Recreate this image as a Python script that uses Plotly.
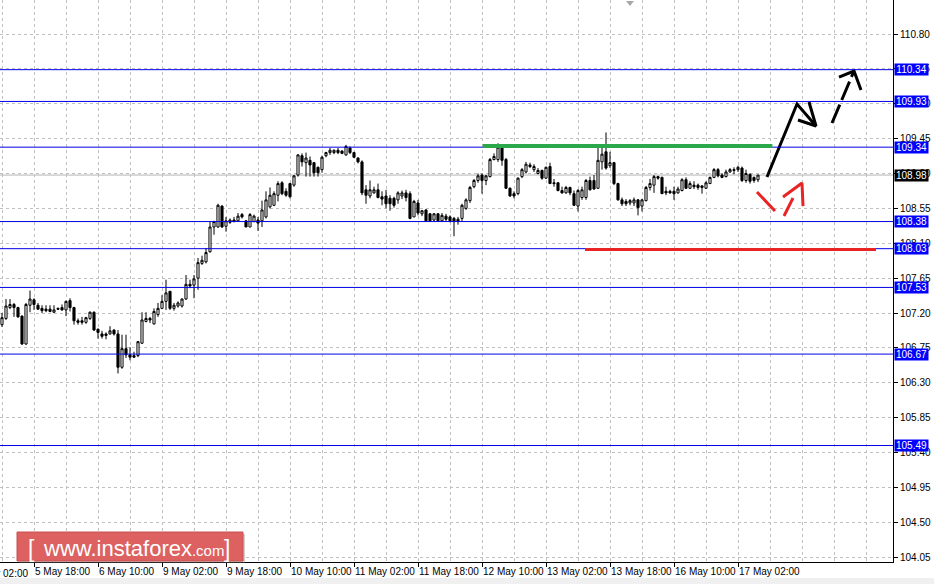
import plotly.graph_objects as go

# ---------------- data (H1 candles) ----------------
opens = [107.05, 107.13, 107.27, 107.31, 107.27, 107.16, 106.80, 107.30, 107.37, 107.30,
         107.26, 107.25, 107.25, 107.21, 107.26, 107.27, 107.24, 107.36, 107.27, 107.10,
         107.10, 107.08, 107.13, 107.21, 106.99, 106.93, 106.93, 106.93, 106.98, 106.93,
         106.50, 106.74, 106.66, 106.65, 106.65, 106.81, 107.09, 107.13, 107.06, 107.18,
         107.26, 107.35, 107.48, 107.26, 107.29, 107.29, 107.38, 107.57, 107.56, 107.65,
         107.84, 107.86, 107.99, 108.31, 108.31, 108.58, 108.32, 108.37, 108.40, 108.39,
         108.47, 108.39, 108.31, 108.38, 108.40, 108.39, 108.44, 108.57, 108.59, 108.72,
         108.88, 108.77, 108.87, 108.85, 108.98, 109.23, 109.14, 109.17, 109.14, 109.08,
         109.05, 109.23, 109.27, 109.27, 109.30, 109.29, 109.24, 109.33, 109.27, 109.20,
         109.15, 108.79, 108.71, 108.75, 108.79, 108.70, 108.71, 108.68, 108.68, 108.66,
         108.71, 108.75, 108.74, 108.44, 108.62, 108.48, 108.53, 108.48, 108.40, 108.48,
         108.39, 108.45, 108.44, 108.42, 108.41, 108.42, 108.55, 108.65, 108.83, 108.91,
         108.98, 108.91, 108.96, 109.18, 109.18, 109.33, 109.18, 108.81, 108.74, 108.74,
         108.96, 109.02, 109.11, 109.05, 109.00, 109.04, 108.94, 109.09, 108.88, 108.88,
         108.78, 108.75, 108.82, 108.74, 108.58, 108.69, 108.69, 108.91, 108.91, 108.81,
         109.15, 109.28, 109.10, 109.14, 108.87, 108.66, 108.64, 108.62, 108.62, 108.66,
         108.58, 108.65, 108.82, 108.85, 108.96, 108.95, 108.77, 108.77, 108.77, 108.75,
         108.78, 108.92, 108.81, 108.85, 108.85, 108.84, 108.81, 108.87, 108.95, 109.05,
         108.98, 108.96, 109.02, 109.05, 109.05, 109.07, 108.91, 108.99, 108.95, 108.92]
highs = [107.20, 107.38, 107.38, 107.33, 107.28, 107.17, 107.33, 107.49, 107.39, 107.33,
         107.30, 107.30, 107.30, 107.30, 107.27, 107.31, 107.36, 107.39, 107.28, 107.13,
         107.15, 107.15, 107.22, 107.22, 107.00, 106.97, 106.95, 107.03, 106.99, 106.98,
         106.92, 106.92, 106.76, 106.70, 106.84, 107.21, 107.21, 107.15, 107.26, 107.33,
         107.43, 107.63, 107.48, 107.33, 107.35, 107.39, 107.69, 107.63, 107.69, 107.91,
         107.94, 108.04, 108.38, 108.39, 108.61, 108.59, 108.44, 108.42, 108.44, 108.49,
         108.49, 108.40, 108.49, 108.47, 108.44, 108.65, 108.77, 108.82, 108.77, 108.90,
         108.90, 108.81, 108.88, 108.98, 109.25, 109.26, 109.27, 109.22, 109.15, 109.09,
         109.23, 109.28, 109.33, 109.31, 109.33, 109.30, 109.37, 109.35, 109.28, 109.21,
         109.17, 108.85, 108.91, 108.83, 108.87, 108.77, 108.79, 108.72, 108.70, 108.77,
         108.78, 108.79, 108.77, 108.66, 108.66, 108.53, 108.54, 108.49, 108.49, 108.49,
         108.49, 108.48, 108.46, 108.44, 108.44, 108.61, 108.68, 108.84, 108.93, 109.00,
         109.00, 108.98, 109.20, 109.26, 109.39, 109.35, 109.20, 108.82, 108.77, 108.95,
         109.07, 109.15, 109.14, 109.12, 109.07, 109.05, 109.09, 109.14, 108.93, 108.89,
         108.83, 108.84, 108.83, 108.78, 108.80, 108.83, 108.93, 108.96, 108.98, 109.37,
         109.38, 109.53, 109.28, 109.15, 108.88, 108.69, 108.67, 108.67, 108.69, 108.67,
         108.67, 108.84, 108.93, 108.98, 108.97, 108.96, 108.83, 108.79, 108.83, 108.83,
         108.94, 108.95, 108.90, 108.90, 108.87, 108.85, 108.90, 108.96, 109.07, 109.07,
         109.00, 109.05, 109.07, 109.08, 109.10, 109.09, 109.05, 109.00, 108.96, 108.98]
lows = [107.02, 107.11, 107.25, 107.15, 107.14, 106.79, 106.79, 107.21, 107.24, 107.24,
        107.20, 107.21, 107.21, 107.20, 107.24, 107.23, 107.16, 107.22, 107.05, 107.05,
        107.05, 107.06, 107.11, 106.97, 106.87, 106.87, 106.86, 106.92, 106.91, 106.42,
        106.48, 106.62, 106.59, 106.62, 106.63, 106.80, 107.08, 107.07, 107.05, 107.15,
        107.25, 107.24, 107.24, 107.23, 107.27, 107.27, 107.37, 107.52, 107.39, 107.50,
        107.82, 107.84, 107.98, 108.21, 108.30, 108.30, 108.25, 108.35, 108.37, 108.38,
        108.42, 108.31, 108.31, 108.37, 108.26, 108.31, 108.42, 108.55, 108.58, 108.64,
        108.72, 108.70, 108.68, 108.83, 108.96, 109.09, 108.96, 108.96, 108.96, 108.96,
        109.01, 109.21, 109.24, 109.25, 109.25, 109.25, 109.23, 109.25, 109.20, 109.13,
        108.72, 108.61, 108.68, 108.74, 108.68, 108.59, 108.55, 108.52, 108.56, 108.61,
        108.67, 108.64, 108.41, 108.44, 108.46, 108.45, 108.38, 108.38, 108.38, 108.38,
        108.38, 108.38, 108.37, 108.19, 108.34, 108.38, 108.53, 108.62, 108.81, 108.88,
        108.74, 108.85, 108.95, 109.17, 109.15, 109.10, 108.80, 108.70, 108.68, 108.72,
        108.94, 109.00, 109.07, 109.02, 108.99, 108.92, 108.93, 108.87, 108.83, 108.77,
        108.74, 108.74, 108.72, 108.58, 108.51, 108.66, 108.66, 108.78, 108.79, 108.80,
        109.05, 109.05, 109.07, 108.85, 108.65, 108.58, 108.58, 108.59, 108.58, 108.46,
        108.51, 108.64, 108.78, 108.75, 108.92, 108.74, 108.72, 108.74, 108.66, 108.74,
        108.77, 108.80, 108.80, 108.80, 108.79, 108.74, 108.80, 108.87, 108.94, 108.95,
        108.94, 108.95, 109.01, 108.99, 109.02, 108.89, 108.88, 108.87, 108.88, 108.89]
closes = [107.14, 107.29, 107.31, 107.27, 107.15, 106.80, 107.31, 107.38, 107.31, 107.25,
          107.23, 107.23, 107.22, 107.24, 107.25, 107.24, 107.35, 107.27, 107.10, 107.08,
          107.08, 107.14, 107.21, 106.98, 106.95, 106.90, 106.91, 106.97, 106.93, 106.50,
          106.74, 106.66, 106.63, 106.63, 106.83, 107.11, 107.13, 107.11, 107.22, 107.26,
          107.35, 107.46, 107.26, 107.30, 107.33, 107.38, 107.57, 107.55, 107.64, 107.85,
          107.88, 107.98, 108.31, 108.38, 108.59, 108.31, 108.39, 108.40, 108.38, 108.45,
          108.44, 108.31, 108.47, 108.45, 108.36, 108.53, 108.66, 108.72, 108.74, 108.87,
          108.74, 108.72, 108.70, 108.97, 109.24, 109.15, 109.20, 109.11, 109.01, 109.01,
          109.21, 109.27, 109.30, 109.30, 109.27, 109.26, 109.35, 109.27, 109.21, 109.15,
          108.75, 108.72, 108.79, 108.79, 108.69, 108.67, 108.61, 108.61, 108.59, 108.75,
          108.75, 108.69, 108.42, 108.64, 108.49, 108.52, 108.39, 108.39, 108.48, 108.39,
          108.46, 108.41, 108.39, 108.38, 108.38, 108.59, 108.66, 108.82, 108.91, 108.97,
          108.91, 108.97, 109.18, 109.22, 109.34, 109.17, 108.81, 108.71, 108.71, 108.94,
          109.05, 109.12, 109.09, 109.09, 109.04, 108.94, 109.08, 108.87, 108.87, 108.78,
          108.75, 108.82, 108.75, 108.59, 108.78, 108.79, 108.91, 108.79, 108.80, 109.17,
          109.25, 109.07, 109.14, 108.87, 108.66, 108.61, 108.61, 108.65, 108.66, 108.56,
          108.66, 108.82, 108.87, 108.96, 108.94, 108.74, 108.75, 108.75, 108.74, 108.80,
          108.92, 108.81, 108.87, 108.83, 108.82, 108.82, 108.88, 108.95, 109.05, 108.97,
          108.95, 109.02, 109.05, 109.04, 109.08, 108.91, 109.00, 108.90, 108.91, 108.98]
bar_index = list(range(len(opens)))

# time axis labels (bar index -> label)
time_label_bars = [8, 24, 40, 56, 72, 88, 104, 120, 136, 152, 168, 184]
time_labels = ["5 May 18:00", "6 May 10:00", "9 May 02:00", "9 May 18:00",
               "10 May 10:00", "11 May 02:00", "11 May 18:00", "12 May 10:00",
               "13 May 02:00", "13 May 18:00", "16 May 10:00", "17 May 02:00"]
cut_label_bar = -8
cut_label = "5 May 02:00"
grid_bars = list(range(0, 224, 8))

# price axis
price_ticks = [104.05, 104.50, 104.95, 105.40, 105.85, 106.30, 106.75, 107.20,
               107.65, 108.10, 108.55, 109.00, 109.45, 109.90, 110.35, 110.80]
level_prices = [110.34, 109.93, 109.34, 108.38, 108.03, 107.53, 106.67, 105.49]
current_price = 108.98

# analyst drawings (bar index, price)
resistance_bars = [120.2, 192.6]
resistance_price = 109.355
support_bars = [145.75, 218.5]
support_price = 108.02
black_path_x = [191.25, 198.75, 203.5]
black_path_y = [108.955, 109.897, 109.613]
black_head_x = [199.0, 203.5, 201.75]
black_head_y = [109.690, 109.613, 109.923]
black_dash_x = [207.5, 213.0]
black_dash_y = [109.652, 110.323]
black_dash_head_x = [209.25, 213.0, 214.75]
black_dash_head_y = [110.245, 110.323, 110.077]
red_stroke_x = [188.75, 193.25]
red_stroke_y = [108.761, 108.516]
red_shaft_x = [195.5, 197.75]
red_shaft_y = [108.452, 108.684]
red_head_x = [195.25, 200.0, 200.25]
red_head_y = [108.697, 108.878, 108.581]

# ---------------- layout constants ----------------
W, H = 934, 584
ML, MR, MT, MB = 0, 41, 0, 22
X_RANGE = [-0.5, 222.75]
Y_RANGE = [103.987, 111.239]
PW = W - ML - MR
PH = H - MT - MB
FONT = "Liberation Sans, Arial, sans-serif"
GRID = "#c0c0c0"

fig = go.Figure()

fig.add_trace(go.Candlestick(
    x=bar_index, open=opens, high=highs, low=lows, close=closes,
    increasing=dict(line=dict(color="black", width=1), fillcolor="white"),
    decreasing=dict(line=dict(color="black", width=1), fillcolor="black"),
    whiskerwidth=0, showlegend=False, hoverinfo="skip",
))

def add_line(xs, ys, color, dash="solid", width=3):
    fig.add_trace(go.Scatter(x=xs, y=ys, mode="lines", showlegend=False,
                             hoverinfo="skip",
                             line=dict(color=color, width=width, dash=dash)))

add_line(black_path_x, black_path_y, "black")
add_line(black_head_x, black_head_y, "black")
add_line(black_dash_x, black_dash_y, "black", dash="20px,5px")
add_line(black_dash_head_x, black_dash_head_y, "black")
red = "#e82424"
add_line(red_stroke_x, red_stroke_y, red)
add_line(red_shaft_x, red_shaft_y, red)
add_line(red_head_x, red_head_y, red)

def px(xp):
    return (xp - ML) / PW

def py(yp):
    return (MT + PH - yp) / PH

shapes = []
# current bid line
shapes.append(dict(type="line", xref="paper", x0=0, x1=1, yref="y",
                   y0=current_price, y1=current_price, layer="below",
                   line=dict(color="#b4b4b4", width=1)))
for lv in level_prices:
    shapes.append(dict(type="line", xref="paper", x0=0, x1=1, yref="y",
                       y0=lv, y1=lv, layer="above",
                       line=dict(color="#0000e6", width=1)))
shapes.append(dict(type="line", xref="x", x0=resistance_bars[0], x1=resistance_bars[1],
                   yref="y", y0=resistance_price, y1=resistance_price, layer="above",
                   line=dict(color="#2aa84a", width=4)))
shapes.append(dict(type="line", xref="x", x0=support_bars[0], x1=support_bars[1],
                   yref="y", y0=support_price, y1=support_price, layer="above",
                   line=dict(color=red, width=3)))
# chart shift marker on the top border
shapes.append(dict(type="path", xref="x", xsizemode="pixel", xanchor=157,
                   yref="paper", ysizemode="pixel", yanchor=1,
                   path="M-4,-1 L4,-1 L0,-6 Z", fillcolor="#a8a8a8",
                   line=dict(width=0), layer="above"))
# bottom status strip
shapes.append(dict(type="rect", xref="paper", yref="paper",
                   x0=px(-5), x1=px(W + 5), y0=py(H + 2), y1=py(H - 6),
                   fillcolor="#f0f0f0", line=dict(width=0), layer="above"))
# watermark box
shapes.append(dict(type="rect", xref="paper", yref="paper",
                   x0=px(19), x1=px(245), y0=py(563), y1=py(534),
                   fillcolor="rgba(120,120,120,0.35)", line=dict(width=0), layer="above"))
shapes.append(dict(type="rect", xref="paper", yref="paper",
                   x0=px(17), x1=px(243), y0=py(561), y1=py(532),
                   fillcolor="#dd6161", line=dict(color="#c85050", width=1), layer="above"))

annotations = []
# level boxes on the price scale
for lv in level_prices:
    annotations.append(dict(xref="paper", x=1, xanchor="left", xshift=1,
                            yref="y", y=lv, yanchor="middle", showarrow=False,
                            text=f"{lv:.2f}", bgcolor="#0000ff", borderpad=0,
                            width=33, height=11,
                            font=dict(family=FONT, size=10, color="white")))
annotations.append(dict(xref="paper", x=1, xanchor="left", xshift=1,
                        yref="y", y=current_price, yanchor="middle", showarrow=False,
                        text=f"{current_price:.2f}", bgcolor="black", borderpad=0,
                        width=33, height=11,
                        font=dict(family=FONT, size=10, color="white")))
# cut-off first time label
annotations.append(dict(xref="paper", x=(cut_label_bar - X_RANGE[0]) / (X_RANGE[1] - X_RANGE[0]),
                        xanchor="left", xshift=1, yref="paper", y=0, yanchor="top", yshift=-4,
                        showarrow=False, text=cut_label,
                        font=dict(family=FONT, size=10, color="black")))
# watermark text
annotations.append(dict(xref="paper", x=px(26), xanchor="left", yref="paper", y=py(549),
                        yanchor="middle", showarrow=False, text="[",
                        font=dict(family=FONT, size=23, color="white")))
annotations.append(dict(xref="paper", x=px(41), xanchor="left", yref="paper", y=py(548),
                        yanchor="middle", showarrow=False,
                        text="www.instaforex<span style='font-size:15px'>.com</span>",
                        font=dict(family=FONT, size=22, color="white")))
annotations.append(dict(xref="paper", x=px(222), xanchor="left", yref="paper", y=py(549),
                        yanchor="middle", showarrow=False, text="]",
                        font=dict(family=FONT, size=23, color="white")))

fig.update_layout(
    width=W, height=H,
    margin=dict(l=ML, r=MR, t=MT, b=MB, pad=0, autoexpand=False),
    paper_bgcolor="white", plot_bgcolor="white",
    showlegend=False, shapes=shapes, annotations=annotations,
    boxgap=0.25,
    font=dict(family=FONT, size=10, color="black"),
    xaxis=dict(range=X_RANGE, rangeslider=dict(visible=False), automargin=False,
               tickmode="array", tickvals=time_label_bars, ticktext=time_labels,
               tickangle=0,
               ticks="outside", ticklen=4, tickcolor="black", tickwidth=1,
               ticklabelposition="outside right",
               tickfont=dict(family=FONT, size=10, color="black"),
               showgrid=True, gridcolor=GRID, griddash="3px,3px", gridwidth=1,
               minor=dict(tickmode="array", tickvals=grid_bars, showgrid=True,
                          gridcolor=GRID, griddash="3px,3px", ticks=""),
               showline=True, linecolor="black", linewidth=1, mirror=True,
               zeroline=False, fixedrange=True),
    yaxis=dict(range=Y_RANGE, side="right", automargin=False,
               tickmode="array", tickvals=price_ticks, tickformat=".2f",
               ticks="outside", ticklen=4, tickcolor="black", tickwidth=1,
               tickfont=dict(family=FONT, size=10, color="black"),
               showgrid=True, gridcolor=GRID, griddash="3px,3px", gridwidth=1,
               showline=True, linecolor="black", linewidth=1, mirror=True,
               zeroline=False, fixedrange=True),
)

fig.write_html("out.html", config={"displayModeBar": False},
               post_script="document.body.style.margin='0';document.body.style.overflow='hidden';")
